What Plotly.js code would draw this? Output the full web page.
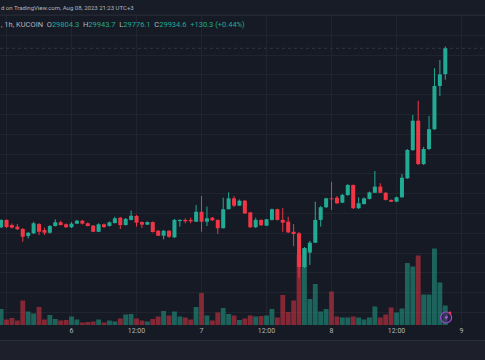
<!DOCTYPE html>
<html>
<head>
<meta charset="utf-8">
<script src="https://cdn.plot.ly/plotly-3.0.1.min.js"></script>
<style>
  html, body { margin: 0; padding: 0; background: #161a25; }
  #chart { width: 485px; height: 360px; }
</style>
</head>
<body>
<div id="chart"></div>
<script>
// ---- Data: BTC/USDT, 1h, KuCoin, Aug 5 11:00 -> Aug 8 21:00 (UTC+3) ----
const open = [29030,29068,29042,29034,29022,28987,29000,29047,29017,29003,
  29037,29056,29046,29031,29049,29064,29051,29039,29008,29046,
  29037,29052,29079,29042,29068,29088,29057,29044,29057,29013,
  28988,29013,28980,29062,29068,29068,29059,29109,29059,29079,
  29068,29026,29122,29177,29140,29165,29106,29031,29068,29039,
  29068,29122,29068,29059,29008,29000,28830,28903,28953,29068,
  29132,29177,29180,29155,29194,29244,29127,29148,29174,29205,
  29236,29205,29169,29160,29182,29278,29421,29569,29350,29426,
  29526,29744,29804.3];
const high = [29070,29070,29050,29047,29027,29007,29059,29052,29029,29042,
  29071,29064,29050,29057,29068,29068,29055,29042,29051,29050,
  29060,29084,29083,29078,29115,29093,29060,29060,29060,29017,
  29017,29017,29073,29071,29076,29079,29143,29189,29135,29083,
  29070,29180,29207,29189,29171,29169,29108,29079,29070,29073,
  29125,29125,29127,29084,29047,29007,28931,28962,29160,29138,
  29180,29261,29189,29199,29249,29247,29182,29181,29211,29315,
  29253,29209,29171,29186,29300,29426,29598,29670,29437,29593,
  29834,29876,29943.7];
const low = [29027,29027,29025,29017,28958,28974,28997,28992,28992,28999,
  29035,29040,29027,29027,29047,29045,29035,29007,29007,29027,
  29035,29050,29022,29040,29065,29034,29027,29042,29004,28987,
  28970,28977,28977,29034,29051,29051,29057,29008,29037,29062,
  28997,29025,29121,29133,29138,29098,29027,29027,29037,29037,
  29065,29065,29008,29002,28936,28775,28825,28840,28951,29034,
  29128,29118,29148,29153,29189,29123,29123,29146,29171,29204,
  29204,29166,29158,29158,29181,29275,29416,29345,29345,29421,
  29522,29694,29776.1];
const close = [29068,29032,29029,29021,28983,29003,29051,29008,29003,29037,
  29056,29042,29031,29049,29064,29049,29037,29008,29046,29032,
  29056,29076,29042,29073,29089,29054,29044,29057,29007,28988,
  29013,28983,29068,29068,29061,29061,29109,29059,29076,29066,
  29026,29122,29177,29140,29165,29101,29031,29068,29041,29071,
  29122,29068,29054,29005,28997,28830,28925,28953,29068,29132,
  29177,29172,29152,29194,29244,29127,29152,29177,29207,29236,
  29205,29169,29160,29182,29281,29421,29569,29350,29426,29526,
  29744,29803,29934.6];
const volume = [32,11,14,9,49,27,23,36,11,20,
  12,9,10,17,11,5,6,7,11,5,
  9,7,13,21,22,13,9,7,12,17,
  28,19,27,17,15,11,36,64,19,9,
  25,34,22,19,10,13,19,17,18,19,
  32,15,60,26,49,140,154,52,82,27,
  32,67,17,15,15,17,15,11,15,37,
  15,21,35,25,33,124,117,139,61,61,
  153,85,39];
const tickLabels = ["12:00","6","12:00","7","12:00","8","12:00","9"];
const symbolInfo = ", 1h, KUCOIN";
const headerLine = "d on TradingView.com, Aug 08, 2023 21:23 UTC+3";

// ---- Build ----
const HOUR = 3600000;
const START = Date.UTC(2023, 7, 5, 11);
const times = open.map((_, i) => START + i * HOUR);
const tickVals = [Date.UTC(2023,7,5,12), Date.UTC(2023,7,6,0), Date.UTC(2023,7,6,12),
  Date.UTC(2023,7,7,0), Date.UTC(2023,7,7,12), Date.UTC(2023,7,8,0),
  Date.UTC(2023,7,8,12), Date.UTC(2023,7,9,0)];

const UP = '#22ab94', DOWN = '#f23645';
const UPV = 'rgba(34,171,148,0.5)', DOWNV = 'rgba(242,54,69,0.5)';
const isUp = close.map((c, i) => c >= open[i]);

const bodyBase = open.map((o, i) => Math.min(o, close[i]));
const bodySize = open.map((o, i) => Math.max(Math.abs(close[i] - o), 5));

const wx = {up: [], dn: []}, wy = {up: [], dn: []};
times.forEach((t, i) => {
  const k = isUp[i] ? 'up' : 'dn';
  wx[k].push(t, t, null);
  wy[k].push(low[i], high[i], null);
});

const traces = [
  { type: 'bar', x: times, y: volume, yaxis: 'y', width: 0.9 * HOUR,
    marker: { color: isUp.map(u => u ? UPV : DOWNV), line: { width: 0 } },
    hoverinfo: 'skip', showlegend: false },
  { type: 'scatter', mode: 'lines', x: wx.up, y: wy.up, yaxis: 'y2',
    line: { color: UP, width: 1 }, hoverinfo: 'skip', showlegend: false },
  { type: 'scatter', mode: 'lines', x: wx.dn, y: wy.dn, yaxis: 'y2',
    line: { color: DOWN, width: 1 }, hoverinfo: 'skip', showlegend: false },
  { type: 'bar', x: times, y: bodySize, base: bodyBase, yaxis: 'y2', width: 0.74 * HOUR,
    marker: { color: isUp.map(u => u ? UP : DOWN), line: { width: 0 } },
    hoverinfo: 'skip', showlegend: false }
];

// decorative shapes in pixel space -> paper
const PH = 325, PW = 485;
const px = x => x / PW, py = y => (PH - y) / PH;
const bolt = [[447.6,313.4],[444.4,318.2],[446.4,318.2],[445.0,321.6],[448.2,316.4],[446.2,316.4]];
const boltPath = 'M' + bolt.map(p => px(p[0]) + ',' + py(p[1])).join(' L') + ' Z';

const last = open.length - 1;
const chg = close[last] - open[last];
const pct = chg / open[last] * 100;
const G = '#b2b5be';
const SP = '&nbsp; ';
const line2 = '<span style="color:' + G + '">' + symbolInfo + SP + 'O</span>' + open[last].toFixed(1) +
  '<span style="color:' + G + '">' + SP + 'H</span>' + high[last].toFixed(1) +
  '<span style="color:' + G + '">' + SP + 'L</span>' + low[last].toFixed(1) +
  '<span style="color:' + G + '">' + SP + 'C</span>' + close[last].toFixed(1) +
  SP + '+' + chg.toFixed(1) + ' (+' + pct.toFixed(2) + '%)';

const layout = {
  width: 485, height: 360,
  margin: { l: 0, r: 0, t: 0, b: 35, pad: 0 },
  paper_bgcolor: '#161a25', plot_bgcolor: '#161a25',
  barmode: 'overlay', hovermode: false, showlegend: false,
  font: { family: 'Roboto, "Noto Sans", sans-serif', size: 7, color: G },
  xaxis: {
    type: 'date',
    range: [START - 0.203 * HOUR, START + 89.33 * HOUR],
    tickvals: tickVals, ticktext: tickLabels, tickangle: 0,
    showgrid: true, gridcolor: 'rgba(42,46,57,0.55)', gridwidth: 1,
    zeroline: false, showline: false, ticks: '',
    tickfont: { size: 7, color: G }, fixedrange: true
  },
  yaxis: { range: [0, 650], visible: false, showgrid: false, fixedrange: true },
  yaxis2: {
    overlaying: 'y', side: 'right',
    range: [28537.25, 30178.5], tick0: 0, dtick: 100,
    showgrid: true, gridcolor: 'rgba(42,46,57,0.55)', gridwidth: 1,
    showticklabels: false, zeroline: false, showline: false, ticks: '', fixedrange: true
  },
  shapes: [
    { type: 'rect', xref: 'paper', yref: 'paper', x0: 0, x1: 1, y0: py(15), y1: py(0),
      fillcolor: '#181c27', line: { width: 0 }, layer: 'above' },
    { type: 'line', xref: 'paper', yref: 'paper', x0: 0, x1: 1, y0: py(15), y1: py(15),
      line: { color: '#262a36', width: 1 }, layer: 'above' },
    { type: 'rect', xref: 'paper', yref: 'paper', x0: 0, x1: 1, y0: py(360), y1: py(340.5),
      fillcolor: '#1d202b', line: { width: 0 }, layer: 'above' },
    { type: 'line', xref: 'paper', yref: 'paper', x0: 0, x1: 1, y0: py(340.5), y1: py(340.5),
      line: { color: '#2a2e39', width: 1 }, layer: 'above' },
    { type: 'line', xref: 'paper', yref: 'y2', x0: 0, x1: 1, y0: close[last], y1: close[last],
      line: { color: 'rgba(110,120,135,0.3)', width: 1, dash: 'dot' }, layer: 'below' },
    { type: 'circle', xref: 'paper', yref: 'paper', x0: px(440.6), x1: px(451.6), y0: py(323), y1: py(312),
      fillcolor: 'rgba(60,30,80,0.6)', line: { color: '#9b4fd0', width: 1.2 }, layer: 'above' },
    { type: 'path', xref: 'paper', yref: 'paper', path: boltPath,
      fillcolor: '#b06ae0', line: { width: 0 }, layer: 'above' },
    { type: 'circle', xref: 'paper', yref: 'paper', x0: px(448.6), x1: px(451.4), y0: py(314.4), y1: py(311.6),
      fillcolor: '#f23645', line: { width: 0 }, layer: 'above' }
  ],
  annotations: [
    { xref: 'paper', yref: 'paper', x: 0, y: py(8), xanchor: 'left', yanchor: 'middle',
      text: headerLine, showarrow: false, borderpad: 0,
      font: { size: 6, color: G } },
    { xref: 'paper', yref: 'paper', x: 0, y: py(24), xanchor: 'left', yanchor: 'middle',
      text: line2, showarrow: false, borderpad: 0,
      font: { size: 7.5, color: UP } }
  ]
};

Plotly.newPlot('chart', traces, layout, { displayModeBar: false, staticPlot: true });
</script>
</body>
</html>
